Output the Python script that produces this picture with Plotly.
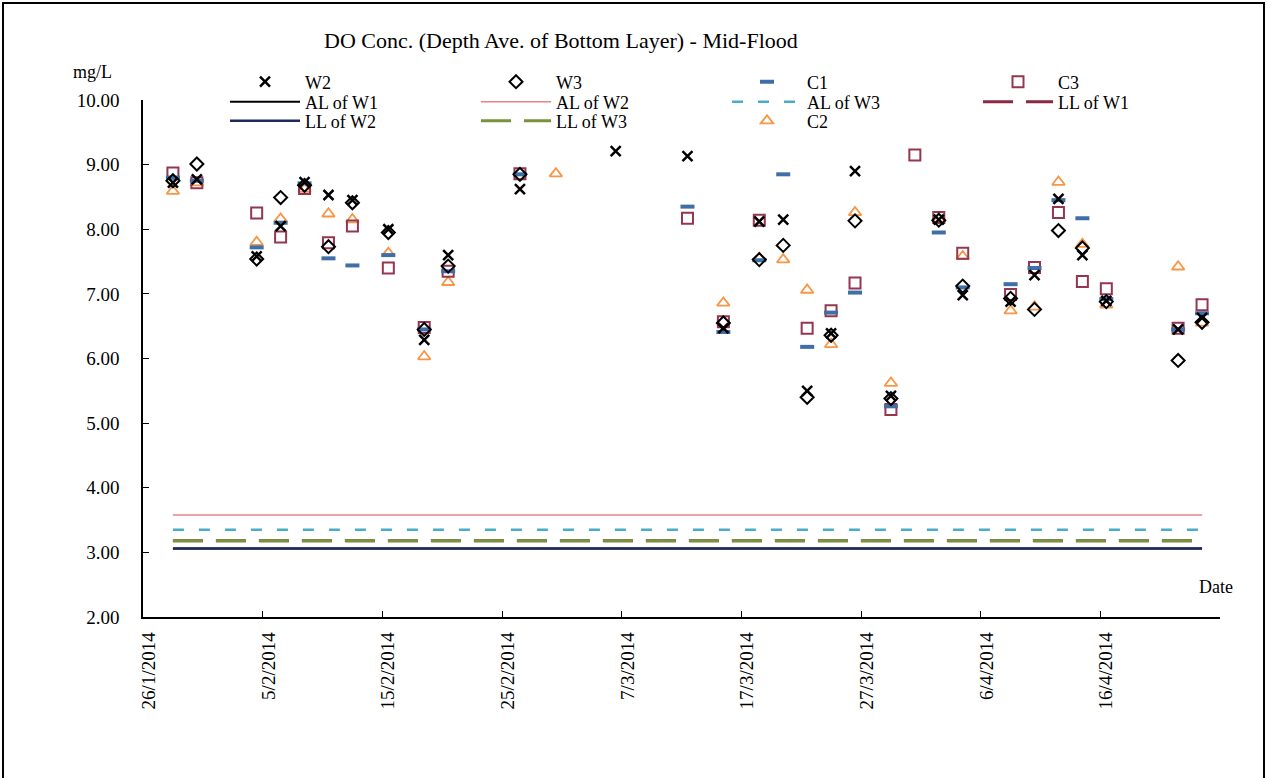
import plotly.graph_objects as go

dates = ["2014-01-28 12:00","2014-01-30 12:00","2014-02-04 12:00","2014-02-06 12:00","2014-02-08 12:00",
         "2014-02-10 12:00","2014-02-12 12:00","2014-02-15 12:00","2014-02-18 12:00","2014-02-20 12:00",
         "2014-02-26 12:00","2014-03-01 12:00","2014-03-06 12:00","2014-03-12 12:00","2014-03-15 12:00",
         "2014-03-18 12:00","2014-03-20 12:00","2014-03-22 12:00","2014-03-24 12:00","2014-03-26 12:00",
         "2014-03-29 12:00","2014-03-31 12:00","2014-04-02 12:00","2014-04-04 12:00","2014-04-08 12:00",
         "2014-04-10 12:00","2014-04-12 12:00","2014-04-14 12:00","2014-04-16 12:00","2014-04-22 12:00",
         "2014-04-24 12:00"]

w2 = [8.72, 8.77, 7.58, 8.05, 8.73, 8.53, 8.45, 8.00, 6.29, 7.60, 8.62, None, 9.21, 9.13, 6.47,
      8.12, 8.15, 5.50, 6.39, 8.90, 5.42, None, 8.15, 6.98, 6.88, 7.29, 8.47, 7.60, 6.89, 6.45, 6.63]
w3 = [8.75, 9.01, 7.54, 8.49, 8.68, 7.73, 8.41, 7.95, 6.45, 7.43, 8.85, None, None, None, 6.55,
      7.53, 7.75, 5.40, 6.36, 8.13, 5.38, None, 8.14, 7.12, 6.93, 6.76, 7.98, 7.71, 6.88, 5.97, 6.56]
c1 = [8.80, 8.75, 7.72, 8.10, 8.71, 7.55, 7.44, 7.60, 6.45, 7.35, 8.85, None, None, 8.35, 6.41,
      7.52, 8.85, 6.18, 6.71, 7.02, 5.26, None, 7.95, 7.10, 7.15, 7.40, 8.45, 8.17, 6.92, 6.45, 6.70]
c3 = [8.87, 8.72, 8.25, 7.88, 8.63, 7.79, 8.05, 7.40, 6.48, 7.35, 8.86, None, None, 8.17, 6.57,
      8.14, None, 6.47, 6.74, 7.17, 5.21, 9.15, 8.18, 7.63, 6.99, 7.41, 8.26, 7.19, 7.08, 6.47, 6.83]
c2 = [8.59, 8.72, 7.80, 8.16, 8.62, 8.24, 8.15, 7.63, 6.03, 7.18, None, 8.86, None, None, 6.86,
      7.55, 7.53, 7.06, 6.22, 8.26, 5.62, None, 8.15, 7.58, 6.74, 6.80, 8.73, 7.77, 6.83, 7.42, 6.55]

line_dates = ["2014-01-28 12:00", "2014-04-24 12:00"]
al_w1 = 3.06
al_w2 = 3.58
al_w3 = 3.35
ll_w1 = 3.18
ll_w2 = 3.06
ll_w3 = 3.18

tick_dates = ["2014-01-26","2014-02-05","2014-02-15","2014-02-25","2014-03-07","2014-03-17",
              "2014-03-27","2014-04-06","2014-04-16","2014-04-26"]
tick_text = ["26/1/2014","5/2/2014","15/2/2014","25/2/2014","7/3/2014","17/3/2014",
             "27/3/2014","6/4/2014","16/4/2014",""]
y_ticks = [2, 3, 4, 5, 6, 7, 8, 9, 10]

FONT = "Liberation Serif, Times New Roman, serif"
PW, PH, PL, PT = 1077, 517, 143, 100


def px_x(px):
    return (px - PL) / PW


def px_y(py):
    return (PT + PH - py) / PH


fig = go.Figure()


def hline(name, val, color, width, dash, rank, leg):
    fig.add_trace(go.Scatter(x=line_dates, y=[val, val], mode="lines", name=name,
                             line=dict(color=color, width=width, dash=dash),
                             legendrank=rank, legend=leg))


hline("AL of W1", al_w1, "#000000", 2, "solid", 1, "legend2")
hline("LL of W1", ll_w1, "#8B2942", 3, "30px,13px", 4, "legend2")
hline("AL of W2", al_w2, "#E8818C", 1.5, "solid", 2, "legend2")
hline("AL of W3", al_w3, "#4BACC6", 2.5, "11px,15px", 3, "legend2")
hline("LL of W3", ll_w3, "#77933C", 3, "30px,13px", 2, "legend3")
hline("LL of W2", ll_w2, "#1F2A5C", 2.5, "solid", 1, "legend3")


def pts(name, vals, symbol, color, size, lw, rank, leg):
    fig.add_trace(go.Scatter(x=dates, y=vals, mode="markers", name=name,
                             marker=dict(symbol=symbol, size=size, color=color,
                                         line=dict(color=color, width=lw)),
                             legendrank=rank, legend=leg))


pts("C2", c2, "triangle-up-open", "#F79646", 11, 1.8, 3, "legend3")
pts("C3", c3, "square-open", "#943650", 11, 2, 4, "legend")
pts("C1", c1, "line-ew", "#3F6FA6", 10, 4, 3, "legend")
pts("W3", w3, "diamond-open", "#000000", 10, 2, 2, "legend")
pts("W2", w2, "x-thin", "#000000", 10, 2.5, 1, "legend")


def leg(row_y):
    return dict(orientation="h", x=px_x(225), y=px_y(row_y), xanchor="left", yanchor="middle",
                entrywidth=166, entrywidthmode="pixels", itemwidth=70,
                font=dict(family=FONT, size=18, color="black"), bgcolor="rgba(0,0,0,0)",
                traceorder="normal")


fig.update_layout(
    width=1280, height=778,
    margin=dict(l=PL, r=1280 - PL - PW, t=PT, b=778 - PT - PH),
    paper_bgcolor="white", plot_bgcolor="white",
    font=dict(family=FONT, size=18, color="black"),
    showlegend=True,
    legend=leg(82), legend2=leg(102), legend3=leg(121),
    xaxis=dict(type="date", range=["2014-01-26", "2014-04-26"],
               tickmode="array", tickvals=tick_dates, ticktext=tick_text,
               tickangle=-90, ticks="inside", ticklen=6, tickcolor="black",
               ticklabelshift=6, ticklabelstandoff=6,
               showline=True, linecolor="black", linewidth=1.5, showgrid=False,
               zeroline=False, tickfont=dict(family=FONT, size=19)),
    yaxis=dict(range=[2, 10], tickmode="array", tickvals=y_ticks,
               ticktext=[f"{v:.2f}" for v in y_ticks],
               ticks="inside", ticklen=6, tickcolor="black", ticklabelstandoff=18,
               showline=True, linecolor="black", linewidth=1.5, showgrid=False,
               zeroline=False, tickfont=dict(family=FONT, size=19)),
    annotations=[
        dict(text="DO Conc. (Depth Ave. of Bottom Layer) - Mid-Flood", xref="paper", yref="paper",
             x=px_x(561), y=px_y(40), xanchor="center", yanchor="middle",
             showarrow=False, font=dict(family=FONT, size=22)),
        dict(text="mg/L", xref="paper", yref="paper", x=px_x(92), y=px_y(72),
             xanchor="center", yanchor="middle", showarrow=False, font=dict(family=FONT, size=18)),
        dict(text="Date", xref="paper", yref="paper", x=px_x(1216), y=px_y(587),
             xanchor="center", yanchor="middle", showarrow=False, font=dict(family=FONT, size=18)),
    ],
    shapes=[
        dict(type="line", xref="paper", yref="paper", x0=px_x(3), x1=px_x(3),
             y0=px_y(2), y1=px_y(778), line=dict(color="black", width=2)),
        dict(type="line", xref="paper", yref="paper", x0=px_x(3), x1=px_x(1264),
             y0=px_y(3), y1=px_y(3), line=dict(color="black", width=2)),
        dict(type="line", xref="paper", yref="paper", x0=px_x(1264), x1=px_x(1264),
             y0=px_y(2), y1=px_y(778), line=dict(color="black", width=2)),
    ],
)

fig.write_html("out.html")
